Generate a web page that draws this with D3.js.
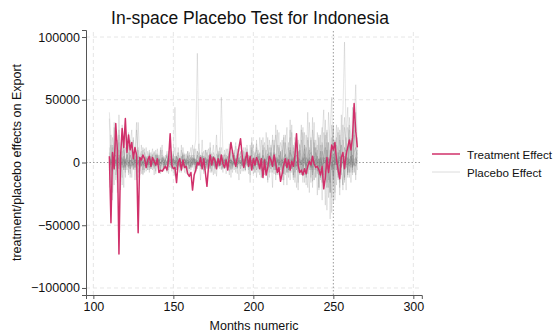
<!DOCTYPE html>
<html>
<head>
<meta charset="utf-8">
<script src="https://cdn.jsdelivr.net/npm/d3@7/dist/d3.min.js"></script>
<style>
  html, body { margin: 0; padding: 0; background: #fff; }
  svg { display: block; font-family: "Liberation Sans", Arial, Helvetica, sans-serif; }
</style>
</head>
<body>
<svg id="chart" width="555" height="335"></svg>
<script>
// Monthly effects, stored in thousands of export units (multiplied by UNIT when drawn)
const UNIT = 1000;
const firstMonth = 110, lastMonth = 265;
const treatmentMonth = 250;

const yTickValues = [-100000, -50000, 0, 50000, 100000];
const xTickValues = [100, 150, 200, 250, 300];

// Treatment effect for Indonesia, months 110..265
const treatmentK = [
  5, -48, 8, -5, 31, 10, -73, 5, 27, 12, 35, 8,
  22, 10, 16, 3, 12, 6, -56, 4, 2, 6, 3, -4,
  2, 5, -3, 4, 1, -2, 3, -8, -6, -7, -5, -3,
  -6, 2, 23, -2, -5, -4, -16, 0, 3, -6, 2, -4,
  -3, -9, -11, -8, -22, -10, -6, 0, -2, 4, -5, 3,
  -8, -19, -3, 6, -2, 4, 2, -5, 3, -2, 6, -1,
  -4, 2, -6, 5, 16, 8, 2, -3, 4, 12, 19, 6,
  -4, 2, 8, -3, 5, -6, 3, -2, 4, 1, -5, 3,
  -12, 2, -10, -4, 5, 2, -3, 6, -1, -8, -4, -15,
  -9, -2, 3, -4, 2, -6, 1, -3, 5, 23, -2, -8,
  -6, -10, -5, -9, -3, 1, -2, 5, -1, -4, -3, -6,
  -10, -3, -21, -12, 4, -8, 2, 14, 10, 16, 2, -6,
  -13, 4, 8, -5, 6, 12, 18, 10, 20, 47, 25, 12
];

// Placebo effects for the donor-pool countries, months 110..265
const placeboA = [
  12, -8, 20, 5, -14, 18, 3, -10, 8, 15, -6, 4,
  -3, 9, -12, 6, 2, -5, 10, -4, 7, -9, 3, 5,
  -6, 4, 8, -3, 2, -7, 11, 0, -5, 6, -2, 3,
  7, -4, 2, 9, -8, 5, -3, 4, 1, -6, 8, -2,
  3, -5, 6, 2, -4, 10, 18, 87, 12, -3, 5, -7,
  4, 2, -6, 8, -3, 5, 1, -4, 9, -2, 3, 6,
  -5, 4, 11, -3, 2, -8, 6, 3, -4, 7, -1, 5,
  2, -6, 9, 4, -3, 12, -5, 6, 15, -2, 8, -7,
  10, 3, -9, 14, -4, 6, 18, -3, 7, -10, 12, 5,
  -6, 16, 2, -8, 11, 20, -5, 9, -12, 14, 3, -7,
  18, 6, -10, 22, -4, 12, 8, -15, 16, 4, -9, 20,
  -6, 14, -18, 10, 24, -20, 8, 30, -12, 18, 6, -8,
  22, -10, 16, 36, 4, -6, 20, 12, -4, 26, 10, 2
];
const placeboB = [
  -20, 14, -6, 28, -10, 6, 22, -15, 9, -4, 12, 3,
  8, -5, 14, -2, 6, 32, -8, 4, -3, 10, -6, 2,
  5, -8, 3, 7, -4, 10, -2, 6, -9, 4, 2, -5,
  9, -3, 5, -7, 3, 12, -4, 6, 2, -8, 4, 7,
  -3, 5, 8, -6, 2, 4, -5, 9, 3, -2, 6, -4,
  10, -3, 5, 2, -7, 8, 4, -2, 6, 12, -5, 3,
  7, -4, 2, 9, -6, 5, 3, -8, 11, 2, -3, 6,
  -4, 8, 3, -6, 14, 2, -9, 6, 10, -3, 5, -12,
  8, 16, -6, 4, 12, -8, 22, 5, -10, 14, 6, -4,
  18, -9, 10, 28, -6, 12, 4, -14, 20, 8, -5, 15,
  -10, 24, 6, -8, 18, 2, -16, 26, 10, -6, 14, -20,
  22, 8, -12, 34, -6, 16, -24, 12, 28, -30, 14, 10,
  -16, 24, 40, 96, 18, -8, 30, 12, -10, 22, 16, 4
];
const placeboC = [
  35, -28, 12, -18, 24, -10, 16, -22, 30, 6, -12, 20,
  -8, 14, 26, -6, 10, -14, 32, 4, -9, 12, 5, -3,
  9, -6, 4, 11, -5, 7, 2, -8, 6, 14, -4, 3,
  -7, 5, 10, -3, 6, 44, -6, 8, 2, -5, 12, 4,
  -9, 6, 3, -4, 14, 2, -7, 9, 5, -3, 18, -6,
  4, 8, -5, 12, 3, -10, 6, 22, -4, 7, 2, -8,
  10, 4, -6, 15, 3, -5, 8, 2, -9, 12, 6, -3,
  9, -7, 14, 3, -5, 20, 6, -8, 12, 4, -10, 18,
  2, -6, 24, 8, -12, 14, 5, -9, 30, 4, -7, 16,
  10, -14, 22, 6, -8, 34, -4, 12, -16, 18, 8, -10,
  26, -6, 14, 4, -20, 32, 10, -8, 18, -12, 24, 6,
  -14, 20, 42, -8, 16, -28, 26, 52, -18, 12, 30, -10,
  18, 8, -22, 28, 14, -12, 36, 20, -6, 30, 62, 14
];
const placeboD = [
  -14, 22, -30, 8, 16, -12, 26, 4, -18, 10, 2, -6,
  14, -9, 6, 20, -4, 8, -12, 5, 9, -3, 11, -7,
  3, 8, -5, 6, -10, 4, 7, -2, 12, -6, 5, 2,
  -8, 9, 3, -4, 6, -11, 5, 8, -3, 10, -5, 2,
  7, -9, 4, 12, -3, 6, -8, 3, 15, -5, 4, 9,
  -6, 3, 11, -4, 7, 2, -9, 14, 5, -3, 52, 8,
  -5, 6, 2, -10, 9, 4, -6, 13, -2, 5, 8, -7,
  12, -4, 6, -9, 3, 16, -6, 8, -12, 10, 4, -5,
  14, -10, 6, 20, -8, 12, -4, 18, -14, 7, 24, -6,
  10, -18, 16, 4, -12, 26, -8, 14, 2, -20, 18, 6,
  -10, 28, -16, 12, 6, -24, 20, -6, 32, -12, 10, -22,
  14, -30, 24, 8, -38, 16, -45, 20, -32, 10, -18, 24,
  -26, 12, 30, -14, 20, -8, 26, -16, 12, 34, -10, 8
];
const placeboE = [
  8, -16, 14, -6, 20, -24, 10, 4, -12, 16, -8, 6,
  -10, 18, -4, 8, -14, 6, 12, -7, 3, -10, 8, 2,
  -6, 10, -3, 5, 8, -9, 4, -5, 10, 2, -7, 6,
  3, -6, 12, -4, 7, -10, 5, 3, -8, 14, -3, 6,
  -5, 9, -12, 4, 6, -7, 11, -3, 5, -14, 8, 2,
  -6, 10, -4, 16, -8, 5, 3, -11, 7, -5, 12, -3,
  6, -9, 4, 8, -12, 3, 10, -5, 6, -14, 9, 2,
  -7, 12, -3, 6, -16, 10, 4, -8, 18, -5, 7, -12,
  20, -6, 10, -16, 8, 4, -20, 14, -6, 26, -10, 8,
  -14, 22, 6, -18, 12, -8, 30, -12, 16, 4, -22, 14,
  8, -16, 24, -10, 40, -6, 18, -20, 12, 6, -26, 22,
  -12, 16, 8, -34, 26, -14, 10, -40, 18, -24, 14, 28,
  -20, 38, 10, -16, 22, 44, -12, 18, -8, 26, 40, 6
];
const placeboF = [
  40, 18, -24, 32, 6, -16, 38, -8, 22, -20, 28, 4,
  24, -12, 10, 18, -6, 26, 8, -10, 14, 2, -8, 12,
  -4, 7, 3, -6, 9, -3, 5, -8, 4, 10, -5, 3,
  6, -9, 4, 8, -3, 5, -6, 12, 2, -4, 7, -8,
  3, 9, -5, 6, -2, 11, -7, 4, 8, -3, 5, -9,
  10, -4, 6, -8, 3, 14, -5, 7, -2, 9, -6, 4,
  -3, 11, 5, -7, 8, -4, 6, 16, -5, 3, -9, 10,
  4, -6, 11, 2, -10, 8, 14, -4, 6, -8, 20, 3,
  -9, 12, 4, -14, 18, 6, -8, 10, 22, -6, 14, -12,
  6, 20, -10, 8, 16, -14, 24, 4, -8, 18, -16, 10,
  30, -8, 14, -18, 20, 8, -12, 36, -6, 18, 4, -20,
  16, 28, -10, 22, -16, 40, 12, -28, 30, -6, 20, -14,
  26, -4, 18, 10, -22, 28, 16, -8, 44, 12, -14, 20
];
const placeboG = [
  3, -2, 4, -1, 2, -3, 1, 3, -2, 2, -1, 4,
  -3, 1, 2, -2, 3, 0, -1, 2, -3, 1, 2, -1,
  1, -2, 3, -1, 0, 2, -2, 1, 3, -1, -2, 2,
  -1, 2, 0, -3, 2, 1, -1, 3, -2, 0, 1, -2,
  2, -1, 3, 0, -2, 1, 2, -3, 1, 0, -1, 2,
  -2, 1, 3, -1, 0, 2, -3, 1, 2, -1, 0, 3,
  -1, 2, -2, 1, 3, -1, 0, 2, -2, 1, -1, 3,
  0, -2, 2, 1, -3, 2, 0, -1, 3, -2, 1, 2,
  -1, 3, -2, 0, 2, -3, 1, 4, -1, 2, -3, 1,
  3, -2, 1, -4, 2, 3, -1, 0, 4, -3, 2, 1,
  -2, 4, 0, -3, 3, 1, -4, 2, 5, -2, 0, 3,
  -3, 4, -1, 2, -5, 3, 1, -4, 6, -2, 3, -1,
  4, -3, 2, 5, -4, 1, 3, -2, 6, 0, -3, 2
];
const placeboH = [
  -4, 2, -1, 3, -3, 1, 4, -2, 0, 3, -4, 1,
  2, -3, 1, 3, -1, -2, 2, 0, 3, -2, -1, 1,
  -2, 3, 0, -1, 2, -3, 1, 2, -1, 0, 3, -2,
  1, -1, 2, 3, -2, 0, 1, -3, 2, 1, -1, 3,
  -2, 0, 1, -3, 2, 3, -1, 1, -2, 2, 0, -1,
  3, -2, 1, 0, 2, -3, 1, -1, 3, 0, -2, 1,
  2, -3, 0, 2, -1, 1, -2, 3, 0, -1, 2, -2,
  1, 3, -2, -1, 2, 0, -3, 3, 1, -2, 0, 2,
  3, -2, 1, -3, 2, 4, -1, -2, 3, 0, 2, -3,
  -1, 3, 2, -2, -4, 1, 3, -1, 2, -3, 4, 0,
  2, -3, -1, 4, 1, -2, 3, -4, 1, 2, -1, -3,
  4, -2, 2, 1, -3, -6, 2, -1, -4, 3, -2, 1,
  -3, 2, 4, -1, 3, -2, 1, 5, -3, 2, 4, -1
];
const placeboI = [
  1, 3, -2, -4, 2, 0, -3, 2, 4, -1, 1, -2,
  0, 2, -3, 1, 2, -1, 0, 3, -2, 1, -1, 2,
  3, -1, -2, 2, 1, 0, -2, 3, -1, 2, 0, -3,
  2, 1, -2, 0, 3, -1, 2, -2, 1, 0, -3, 2,
  1, -2, 0, 2, 3, -2, 1, 0, -1, 3, -2, 1,
  0, 2, -1, -3, 1, 2, 0, -2, 1, 3, -1, 0,
  2, 0, -3, 1, 2, -2, 3, 0, -1, 2, 1, -3,
  3, -1, 0, 2, -2, 1, 3, -2, 0, 1, -3, 2,
  0, 1, 3, -2, -1, 2, 0, -3, 2, 4, -2, 1,
  2, 0, -3, 3, 1, -2, -1, 4, -3, 1, 2, -2,
  -1, 3, 2, -2, 0, 4, -3, 1, -2, 3, 2, -4,
  1, -3, 4, 2, -1, -5, 3, -3, 2, -2, 5, 0,
  2, -4, 1, 3, -2, 4, -1, 2, 3, -3, 1, 4
];
const placeboJ = [
  -6, 4, 8, -5, 3, -7, 6, 2, -4, 5, -3, 7,
  3, -5, 2, 6, -4, 1, 5, -3, 2, -6, 4, 1,
  -2, 4, -5, 3, 1, -3, 6, -2, 0, 4, -4, 2,
  5, -2, -4, 3, 1, -5, 4, 2, -3, 5, 0, -4,
  3, 2, -5, 4, -1, 3, -4, 6, 1, -3, 2, 5,
  -4, 3, 1, -5, 5, -2, 4, 0, -3, 2, 6, -4,
  1, 4, -3, 2, -5, 6, -1, 3, -4, 2, 5, -2,
  -3, 5, 1, -4, 3, 6, -5, 2, -2, 7, -4, 3,
  5, -6, 2, 7, -3, -5, 4, 8, -6, 3, -2, 9,
  -7, 4, 6, -8, 3, 10, -5, -2, 7, -6, 9, 2,
  -8, 5, 11, -4, -9, 6, 8, -10, 4, 12, -7, 3,
  -12, 9, 2, -14, 10, -8, -16, 6, -10, 12, -6, 8,
  -9, 14, 4, -12, 10, 6, -8, 15, -4, 8, 12, -6
];
const placeboK = [
  5, -3, -7, 4, 6, -2, -5, 8, 1, -6, 3, -2,
  -4, 6, 2, -5, 3, 7, -2, -4, 5, 1, -3, 4,
  2, -4, 5, 0, -3, 6, -1, 3, -5, 2, 4, -3,
  -1, 4, 2, -5, 3, -2, 5, 1, -4, 2, 6, -2,
  -3, 5, 1, -4, 4, -1, 3, -5, 2, 6, -3, 0,
  4, -5, 2, 3, -2, 5, -4, 1, 6, -3, 2, -5,
  3, 1, 5, -4, 2, -3, 6, -2, 0, 4, -5, 3,
  -2, 4, 6, -3, 1, -5, 4, 3, -6, 5, 2, -4,
  6, 2, -7, 5, -3, 8, 1, -6, 4, -8, 6, 3,
  -4, -9, 7, 2, -6, 8, 5, -10, 4, 6, -8, 10,
  3, -9, 7, -12, 5, 10, -6, 4, -14, 8, 2, -10,
  9, -16, 6, 12, -20, 4, -24, 10, -14, 8, 4, -12,
  10, -6, -18, 12, 8, -10, 14, -4, 20, -8, 6, 10
];
const placeboL = [
  2, 1, -3, 2, -1, 4, 0, -2, 3, -4, 2, 1,
  -1, 2, 0, -3, 2, 1, -2, 3, 0, -1, 2, -3,
  1, 0, 2, -2, 3, -1, 0, 2, -3, 1, 2, 0,
  -2, 3, 1, -1, 0, 2, -3, 1, 2, -2, 0, 3,
  -1, 2, -3, 0, 1, 3, -2, 2, 0, -1, 3, -2,
  1, 0, 2, -2, 3, -1, 2, 0, -3, 1, 2, -1,
  0, 3, -2, 1, 2, -1, 0, -3, 2, 1, -1, 2,
  2, -1, 3, 0, -2, 2, 1, -3, 2, 0, 3, -1,
  -2, 3, 1, -1, 4, -2, 0, 2, -3, 1, 3, -2,
  2, 0, -3, 4, 1, -2, 2, 3, -4, 1, 0, 3,
  -2, 1, 4, -3, 2, 0, -4, 3, 1, -2, 5, -1,
  3, -3, 2, 4, -5, 1, 3, -6, 2, 4, -2, 1,
  5, -2, 3, -1, 4, 2, -3, 5, 0, -2, 3, 1
];

// Wide-swinging donors are drawn faint; the near-zero donors form the darker core
const placeboWide = [placeboA, placeboB, placeboC, placeboD, placeboE, placeboF];
const placeboCore = [placeboG, placeboH, placeboI, placeboJ, placeboK, placeboL];

const legendLabels = ["Treatment Effect", "Placebo Effect"];
const treatColor = "#d0306a";
const placeboColor = "#808080";

const months = d3.range(firstMonth, lastMonth + 1);

const svg = d3.select("#chart");

const x = d3.scaleLinear().domain([95.4, 305.3]).range([86, 421.8]);
const y = d3.scaleLinear().domain([-105600, 105600]).range([295, 30]);

// Light dashed grid
const grid = svg.append("g").attr("fill", "none");
grid.selectAll("line.h")
  .data(yTickValues.filter(d => d !== 0))
  .join("line")
  .attr("x1", x.range()[0]).attr("x2", x.range()[1])
  .attr("y1", d => y(d)).attr("y2", d => y(d))
  .attr("stroke", "#e6e6e6").attr("stroke-width", 1)
  .attr("stroke-dasharray", "4,3");
grid.selectAll("line.v")
  .data(xTickValues.filter(d => d !== treatmentMonth))
  .join("line")
  .attr("x1", d => x(d)).attr("x2", d => x(d))
  .attr("y1", y.range()[0]).attr("y2", y.range()[1])
  .attr("stroke", "#e6e6e6").attr("stroke-width", 1)
  .attr("stroke-dasharray", "4,3");

// Reference lines: zero effect and treatment month
svg.append("line")
  .attr("x1", x.range()[0]).attr("x2", x.range()[1])
  .attr("y1", y(0)).attr("y2", y(0))
  .attr("stroke", "#9a9a9a").attr("stroke-width", 1)
  .attr("stroke-dasharray", "1.5,2");
svg.append("line")
  .attr("x1", x(treatmentMonth)).attr("x2", x(treatmentMonth))
  .attr("y1", y.range()[0]).attr("y2", y.range()[1])
  .attr("stroke", "#9a9a9a").attr("stroke-width", 1)
  .attr("stroke-dasharray", "1.5,2");

const line = d3.line()
  .x((d, i) => x(months[i]))
  .y(d => y(d * UNIT));

// Placebo lines
const placeboG_ = svg.append("g").attr("fill", "none").attr("stroke", placeboColor);
placeboG_.selectAll("path.wide")
  .data(placeboWide)
  .join("path")
  .attr("class", "wide")
  .attr("d", line)
  .attr("stroke-opacity", 0.2)
  .attr("stroke-width", 1);
placeboG_.selectAll("path.core")
  .data(placeboCore)
  .join("path")
  .attr("class", "core")
  .attr("d", line)
  .attr("stroke-opacity", 0.32)
  .attr("stroke-width", 1);

// Treatment line
svg.append("path")
  .datum(treatmentK)
  .attr("d", line)
  .attr("fill", "none")
  .attr("stroke", treatColor)
  .attr("stroke-width", 1.5)
  .attr("stroke-linejoin", "round");

// Axes
const axisColor = "#555";
const yAxis = svg.append("g")
  .attr("transform", `translate(${x.range()[0]},0)`)
  .call(d3.axisLeft(y).tickValues(yTickValues).tickFormat(d3.format("d")).tickSizeOuter(0).tickSize(4).tickPadding(2));
const xAxis = svg.append("g")
  .attr("transform", `translate(0,${y.range()[0]})`)
  .call(d3.axisBottom(x).tickValues(xTickValues).tickFormat(d3.format("d")).tickSizeOuter(0).tickSize(4).tickPadding(3));
[yAxis, xAxis].forEach(a => {
  a.select(".domain").attr("stroke", axisColor);
  a.selectAll(".tick line").attr("stroke", axisColor);
  a.selectAll(".tick text")
    .attr("fill", "#111")
    .style("font-size", "12.5px")
    .style("font-family", "'Liberation Sans', Arial, sans-serif");
});

// Titles
svg.append("text")
  .attr("x", 250).attr("y", 24)
  .attr("text-anchor", "middle")
  .attr("fill", "#111")
  .style("font-size", "17.5px")
  .text("In-space Placebo Test for Indonesia");

svg.append("text")
  .attr("x", 254).attr("y", 330)
  .attr("text-anchor", "middle")
  .attr("fill", "#111")
  .style("font-size", "12.5px")
  .text("Months numeric");

svg.append("text")
  .attr("transform", `translate(21,${y(0)}) rotate(-90)`)
  .attr("text-anchor", "middle")
  .attr("fill", "#111")
  .style("font-size", "12.5px")
  .text("treatment/placebo effects on Export");

// Legend
const legend = svg.append("g").attr("transform", "translate(432,154)");
const legendStyles = [
  { stroke: treatColor, width: 1.5 },
  { stroke: "#dcdcdc", width: 1 }
];
legendLabels.forEach((label, i) => {
  const g = legend.append("g").attr("transform", `translate(0,${i * 18})`);
  g.append("line")
    .attr("x1", 0).attr("x2", 28).attr("y1", 0).attr("y2", 0)
    .attr("stroke", legendStyles[i].stroke)
    .attr("stroke-width", legendStyles[i].width);
  g.append("text")
    .attr("x", 35).attr("y", 4.5)
    .attr("fill", "#111")
    .style("font-size", "11.6px")
    .text(label);
});
</script>
</body>
</html>
